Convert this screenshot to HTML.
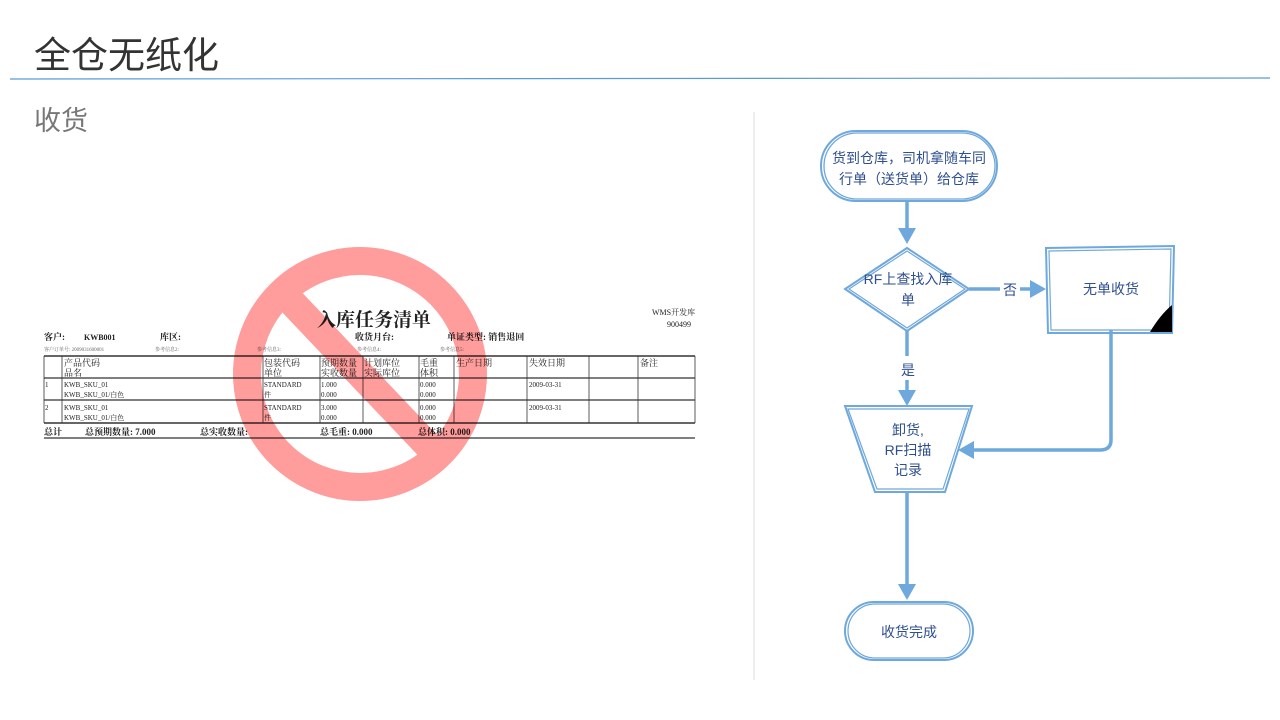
<!DOCTYPE html>
<html><head><meta charset="utf-8"><style>
html,body{margin:0;padding:0;background:#fff;}
body{width:1280px;height:720px;overflow:hidden;position:relative;font-family:"Liberation Sans","Noto Sans CJK SC",sans-serif;}
</style></head><body>
<svg width="1280" height="720" viewBox="0 0 1280 720" xmlns="http://www.w3.org/2000/svg" style="position:absolute;left:0;top:0">
<text x="34" y="68" font-size="37" fill="#333" font-family="Liberation Sans,Noto Sans CJK SC,sans-serif">全仓无纸化</text>
<line x1="10" y1="79" x2="1270" y2="78" stroke="#5B9BD5" stroke-width="1.2"/>
<text x="34" y="130" font-size="27" fill="#777" font-family="Liberation Sans,Noto Sans CJK SC,sans-serif">收货</text>
<line x1="754" y1="112" x2="754" y2="680" stroke="#ddd" stroke-width="1"/>

<!-- document -->
<g font-family="Liberation Serif,Noto Serif CJK SC,serif" fill="#222">
<text x="317" y="326" font-size="19" font-weight="bold">入库任务清单</text>
<text x="652" y="315" font-size="8">WMS开发库</text>
<text x="667" y="327" font-size="8">900499</text>
<text x="44" y="340" font-size="9" font-weight="bold">客户:</text>
<text x="84" y="340" font-size="8" font-weight="bold">KWB001</text>
<text x="160" y="340" font-size="9" font-weight="bold">库区:</text>
<text x="355" y="340" font-size="9" font-weight="bold">收货月台:</text>
<text x="447" y="340" font-size="9" font-weight="bold">单证类型: 销售退回</text>
<text x="44" y="351" font-size="5" fill="#666">客户订单号:  2009031600001</text>
<text x="155" y="351" font-size="5" fill="#666">参考信息2:</text>
<text x="257" y="351" font-size="5" fill="#666">参考信息3:</text>
<text x="357" y="351" font-size="5" fill="#666">参考信息4:</text>
<text x="440" y="351" font-size="5" fill="#666">参考信息5:</text>
<g stroke="#333" fill="none">
<line x1="44" y1="356" x2="695" y2="356" stroke-width="1.5"/>
<line x1="44" y1="378" x2="695" y2="378" stroke-width="1.2"/>
<line x1="44" y1="400" x2="695" y2="400" stroke-width="1.2"/>
<line x1="44" y1="423" x2="695" y2="423" stroke-width="1.5"/>
<line x1="44" y1="438" x2="695" y2="438" stroke-width="1.2"/>
<g stroke-width="0.8">
<line x1="44" y1="356" x2="44" y2="423"/><line x1="62" y1="356" x2="62" y2="423"/>
<line x1="263" y1="356" x2="263" y2="423"/><line x1="320" y1="356" x2="320" y2="423"/>
<line x1="363" y1="356" x2="363" y2="423"/><line x1="419" y1="356" x2="419" y2="423"/>
<line x1="454" y1="356" x2="454" y2="423"/><line x1="527" y1="356" x2="527" y2="423"/>
<line x1="589" y1="356" x2="589" y2="423"/><line x1="638" y1="356" x2="638" y2="423"/>
<line x1="695" y1="356" x2="695" y2="423"/>
</g></g>
<g font-size="9">
<text x="64" y="366">产品代码</text><text x="64" y="376">品名</text>
<text x="264" y="366">包装代码</text><text x="264" y="376">单位</text>
<text x="321" y="366">预期数量</text><text x="321" y="376">实收数量</text>
<text x="364" y="366">计划库位</text><text x="364" y="376">实际库位</text>
<text x="420" y="366">毛重</text><text x="420" y="376">体积</text>
<text x="456" y="366">生产日期</text><text x="529" y="366">失效日期</text><text x="640" y="366">备注</text>
</g>
<g font-size="7">
<text x="45" y="387">1</text><text x="64" y="387">KWB_SKU_01</text><text x="64" y="397">KWB_SKU_01/白色</text>
<text x="264" y="387">STANDARD</text><text x="264" y="397">件</text><text x="321" y="387">1.000</text><text x="321" y="397">0.000</text>
<text x="420" y="387">0.000</text><text x="420" y="397">0.000</text><text x="529" y="387">2009-03-31</text>
<text x="45" y="410">2</text><text x="64" y="410">KWB_SKU_01</text><text x="64" y="420">KWB_SKU_01/白色</text>
<text x="264" y="410">STANDARD</text><text x="264" y="420">件</text><text x="321" y="410">3.000</text><text x="321" y="420">0.000</text>
<text x="420" y="410">0.000</text><text x="420" y="420">0.000</text><text x="529" y="410">2009-03-31</text>
</g>
<g font-size="9" font-weight="bold">
<text x="44" y="435">总计</text><text x="85" y="435">总预期数量: 7.000</text><text x="200" y="435">总实收数量:</text>
<text x="320" y="435">总毛重:  0.000</text><text x="418" y="435">总体积: 0.000</text>
</g>
</g>
<!-- prohibition -->
<g style="mix-blend-mode:multiply">
<circle cx="360" cy="374" r="113" fill="none" stroke="#FF9C9C" stroke-width="28"/>
<line x1="287" y1="297" x2="435" y2="453" stroke="#FF9C9C" stroke-width="28"/>
</g>

<!-- flowchart -->
<g fill="none" stroke="#6FA8DC" stroke-width="2">
<rect x="821" y="131" width="176" height="70" rx="35"/>
<rect x="824" y="133" width="171" height="66" rx="33" stroke-width="1.3"/>
<polygon points="907,248 969,289 907,331 845,289"/>
<polygon points="907,251 965,289 907,328 849,289" stroke-width="1.2"/>
<path d="M1046,248 L1174,246 L1172,333 L1048,333 Z"/>
<path d="M1049,251 L1171,249 L1169,330 L1051,330 Z" stroke-width="1.2"/>
<polygon points="845,406 972,406 945,492 875,492"/>
<polygon points="848,409 969,409 943,489 877,489" stroke-width="1.2"/>
<rect x="845" y="602" width="128" height="58" rx="29"/>
<rect x="848" y="604" width="122" height="54" rx="27" stroke-width="1.2"/>
</g>
<path d="M1150,332 L1172,332 L1172,305 Q1160,315 1150,332 Z" fill="#000"/>
<g stroke="#6FA8DC" stroke-width="3.5" fill="none">
<line x1="907" y1="201" x2="907" y2="230"/>
<line x1="907" y1="331" x2="907" y2="356"/>
<line x1="907" y1="380" x2="907" y2="392"/>
<line x1="969" y1="289" x2="1000" y2="289"/>
<line x1="1020" y1="289" x2="1030" y2="289"/>
<path d="M1111,330 L1111,440 Q1111,450 1100,450 L972,450"/>
<line x1="907" y1="492" x2="907" y2="585"/>
</g>
<g fill="#6FA8DC">
<polygon points="898,228 916,228 907,244"/>
<polygon points="898,390 916,390 907,406"/>
<polygon points="1030,280 1030,298 1046,289"/>
<polygon points="974,441 974,459 958,450"/>
<polygon points="898,584 916,584 907,600"/>
</g>
<g font-family="Liberation Sans,Noto Sans CJK SC,sans-serif" font-size="14" fill="#2F4F8F" text-anchor="middle">
<text x="909" y="163">货到仓库，司机拿随车同</text>
<text x="909" y="184">行单（送货单）给仓库</text>
<text x="908" y="284">RF上查找入库</text>
<text x="908" y="305">单</text>
<text x="1010" y="295">否</text>
<text x="1111" y="294">无单收货</text>
<text x="908" y="375">是</text>
<text x="908" y="435">卸货,</text>
<text x="908" y="455">RF扫描</text>
<text x="908" y="475">记录</text>
<text x="909" y="637">收货完成</text>
</g>
</svg>
</body></html>
